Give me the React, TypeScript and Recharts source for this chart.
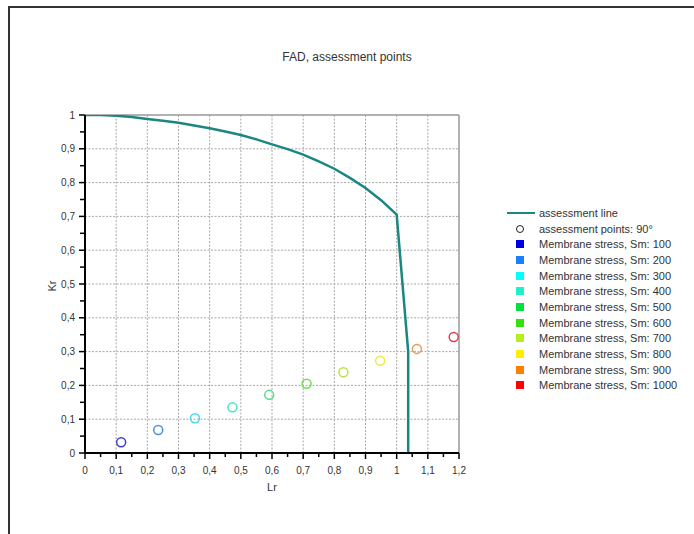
import { ComposedChart, Line, Scatter, XAxis, YAxis, ReferenceLine } from 'recharts';

// assessment line
const lineLr = [0, 0.05, 0.1, 0.15, 0.2, 0.25, 0.3, 0.35, 0.4, 0.45, 0.5, 0.55, 0.6, 0.65, 0.7, 0.75, 0.8, 0.85, 0.9, 0.95, 1.0, 1.037, 1.037];
const lineKr = [1, 1, 0.998, 0.994, 0.988, 0.983, 0.977, 0.969, 0.961, 0.951, 0.941, 0.928, 0.913, 0.899, 0.883, 0.863, 0.841, 0.814, 0.784, 0.748, 0.705, 0.3, 0];

// assessment points, 90°
const pointLr = [0.116, 0.235, 0.353, 0.473, 0.591, 0.711, 0.829, 0.947, 1.065, 1.183];
const pointKr = [0.032, 0.068, 0.103, 0.135, 0.172, 0.205, 0.239, 0.273, 0.308, 0.343];
const stressLevels = [100, 200, 300, 400, 500, 600, 700, 800, 900, 1000];
const pointColors = ['#3b3bd6', '#4a8fe6', '#3fdcec', '#45e6bf', '#5cdc86', '#6fdc55', '#bde33f', '#eeea45', '#e59a55', '#e0404e'];
const legendColors = ['#0000e6', '#1a80ff', '#00ffff', '#20f0c8', '#00e040', '#33e010', '#b4f020', '#ffee00', '#ff8000', '#ff0000'];

const xTicks = [0, 0.05, 0.1, 0.15, 0.2, 0.25, 0.3, 0.35, 0.4, 0.45, 0.5, 0.55, 0.6, 0.65, 0.7, 0.75, 0.8, 0.85, 0.9, 0.95, 1.0, 1.05, 1.1, 1.15, 1.2];
const yTicks = [0, 0.05, 0.1, 0.15, 0.2, 0.25, 0.3, 0.35, 0.4, 0.45, 0.5, 0.55, 0.6, 0.65, 0.7, 0.75, 0.8, 0.85, 0.9, 0.95, 1.0];
const xGrid = [0.1, 0.2, 0.3, 0.4, 0.5, 0.6, 0.7, 0.8, 0.9, 1.0, 1.1];
const yGrid = [0.1, 0.2, 0.3, 0.4, 0.5, 0.6, 0.7, 0.8, 0.9];

const lineData = lineLr.map((lr, i) => ({ lr, kr: lineKr[i] }));
const pointData = pointLr.map((lr, i) => ({ lr, kr: pointKr[i], color: pointColors[i] }));

const FONT = '"Liberation Sans", Arial, sans-serif';
const TEAL = '#1a8782';

const isMajor = (v: number) => Math.abs(v * 10 - Math.round(v * 10)) < 1e-6;
const fmt = (v: number) => String(Math.round(v * 10) / 10).replace('.', ',');

function XTick({ x, y, payload }: any) {
  const v = payload.value;
  const major = isMajor(v);
  return (
    <g>
      <line x1={x} y1={y} x2={x} y2={y + (major ? 6 : 4)} stroke="#000" strokeWidth={1.5} />
      {major && (
        <text x={x} y={y + 21} textAnchor="middle" fontSize={10} fill="#333" fontFamily={FONT}>
          {fmt(v)}
        </text>
      )}
    </g>
  );
}

function YTick({ x, y, payload }: any) {
  const v = payload.value;
  const major = isMajor(v);
  return (
    <g>
      <line x1={x} y1={y} x2={x - (major ? 6 : 5)} y2={y} stroke="#000" strokeWidth={1.5} />
      {major && (
        <text x={x - 10} y={y} dy="0.35em" textAnchor="end" fontSize={10} fill="#333" fontFamily={FONT}>
          {fmt(v)}
        </text>
      )}
    </g>
  );
}

const ring = (props: any) => (
  <circle cx={props.cx} cy={props.cy} r={4.5} fill="none" stroke={props.payload.color} strokeWidth={1.5} />
);

function LegendBox() {
  const rowH = 15.7;
  return (
    <div style={{ position: 'absolute', left: 505, top: 205, fontFamily: FONT, fontSize: 11, color: '#333' }}>
      <div style={{ display: 'flex', alignItems: 'center', height: rowH }}>
        <div style={{ width: 28, height: 2.5, background: TEAL, marginLeft: 2 }} />
        <span style={{ marginLeft: 4 }}>assessment line</span>
      </div>
      <div style={{ display: 'flex', alignItems: 'center', height: rowH }}>
        <div style={{ width: 30, display: 'flex', justifyContent: 'center' }}>
          <div style={{ width: 6, height: 6, border: '1.5px solid #222', borderRadius: '50%' }} />
        </div>
        <span style={{ marginLeft: 4 }}>assessment points: 90°</span>
      </div>
      {stressLevels.map((s, i) => (
        <div key={s} style={{ display: 'flex', alignItems: 'center', height: rowH }}>
          <div style={{ width: 30, display: 'flex', justifyContent: 'center' }}>
            <div style={{ width: 8, height: 8, background: legendColors[i] }} />
          </div>
          <span style={{ marginLeft: 4 }}>Membrane stress, Sm: {s}</span>
        </div>
      ))}
    </div>
  );
}

export default function App() {
  return (
    <div style={{ position: 'fixed', left: 0, top: 0, width: 694, height: 534, background: '#fff', overflow: 'hidden' }}>
      <div style={{ position: 'absolute', left: 8, top: 6, width: 720, height: 560, borderLeft: '2.5px solid #333', borderTop: '2.5px solid #333' }} />
      <div style={{ position: 'absolute', left: 0, width: 694, top: 50, textAlign: 'center', fontFamily: FONT, fontSize: 12, color: '#333' }}>
        FAD, assessment points
      </div>
      <div style={{ position: 'absolute', left: 52, top: 286, transform: 'translate(-50%, -50%) rotate(-90deg)', fontFamily: FONT, fontSize: 11, color: '#333' }}>
        Kr
      </div>
      <div style={{ position: 'absolute', left: 272, top: 487, transform: 'translate(-50%, -50%)', fontFamily: FONT, fontSize: 11, color: '#333' }}>
        Lr
      </div>
      <div style={{ position: 'absolute', left: 0, top: 0 }}>
        <ComposedChart width={694} height={534} margin={{ top: 115, right: 235, bottom: 51, left: 45 }}>
          <XAxis
            type="number"
            dataKey="lr"
            domain={[0, 1.2]}
            ticks={xTicks}
            interval={0}
            height={30}
            tickSize={0}
            tickMargin={0}
            tickLine={false}
            tick={<XTick />}
            axisLine={{ stroke: '#000', strokeWidth: 2 }}
            allowDataOverflow
          />
          <YAxis
            type="number"
            dataKey="kr"
            domain={[0, 1]}
            ticks={yTicks}
            interval={0}
            width={40}
            tickSize={0}
            tickMargin={0}
            tickLine={false}
            tick={<YTick />}
            axisLine={{ stroke: '#000', strokeWidth: 2 }}
            allowDataOverflow
          />
          {xGrid.map((v) => (
            <ReferenceLine key={'x' + v} x={v} stroke="#a8a8a8" strokeDasharray="2 1.5" />
          ))}
          {yGrid.map((v) => (
            <ReferenceLine key={'y' + v} y={v} stroke="#a8a8a8" strokeDasharray="2 1.5" />
          ))}
          <ReferenceLine y={1} stroke="#999" strokeWidth={1.5} />
          <ReferenceLine x={1.2} stroke="#999" strokeWidth={1.5} />
          <Line
            data={lineData}
            dataKey="kr"
            type="linear"
            stroke={TEAL}
            strokeWidth={2.5}
            dot={false}
            isAnimationActive={false}
          />
          <Scatter data={pointData} dataKey="kr" shape={ring} isAnimationActive={false} />
        </ComposedChart>
      </div>
      <LegendBox />
    </div>
  );
}
